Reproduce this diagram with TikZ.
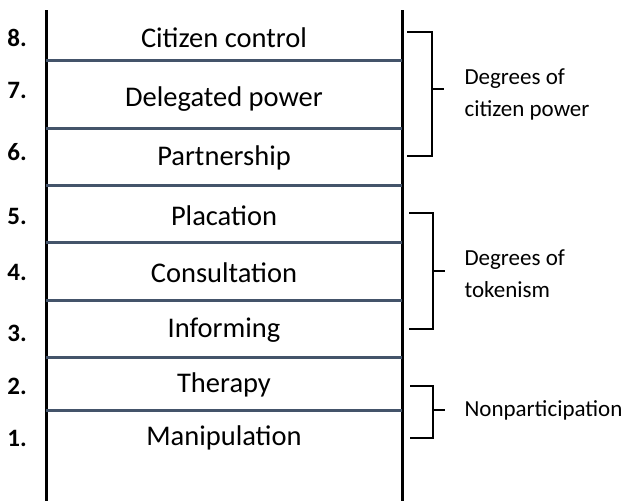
\documentclass[tikz,border=0pt]{standalone}
\usepackage{fontspec}
\setmainfont{Carlito}
\usetikzlibrary{positioning}
\definecolor{rungblue}{HTML}{44546A}

\tikzset{
  rail/.style={line width=3pt,black},
  rung/.style={line width=3pt,rungblue},
  bracket/.style={line width=2.4pt,black},
  steptext/.style={font=\fontsize{28.5}{30}\selectfont},
  stepnum/.style={font=\fontsize{25}{27}\selectfont\bfseries},
  grouptext/.style={font=\fontsize{23}{32}\selectfont,align=left,anchor=west}
}

\begin{document}
\begin{tikzpicture}[x=1pt,y=-1pt]
\useasboundingbox (0,0) rectangle (623,501);
\coordinate (lt) at (46,10);
\coordinate (lb) at (46,501);
\coordinate (rt) at (402,10);
\coordinate (rb) at (402,501);
\draw [rail] (lt) -- (lb);
\draw [rail] (rt) -- (rb);
\draw [rung] (46,60) -- (402,60);
\draw [rung] (46,128) -- (402,128);
\draw [rung] (46,185) -- (402,185);
\draw [rung] (46,242) -- (402,242);
\draw [rung] (46,300) -- (402,300);
\draw [rung] (46,357) -- (402,357);
\draw [rung] (46,410) -- (402,410);
\draw
    (224,38) node [steptext] (s8) {Citizen control}
    +(0,61) node [steptext] (s7) {Delegated power}
    +(0,120) node [steptext] (s6) {Partnership}
    +(0,178) node [steptext] (s5) {Placation}
    +(0,235) node [steptext] (s4) {Consultation}
    +(0,292) node [steptext] (s3) {Informing}
    +(0,347) node [steptext] (s2) {Therapy}
    +(0,400) node [steptext] (s1) {Manipulation};
\draw
    (17,38) node [stepnum] (n8) {8.}
    +(0,52) node [stepnum] (n7) {7.}
    +(0,114) node [stepnum] (n6) {6.}
    +(0,178) node [stepnum] (n5) {5.}
    +(0,234) node [stepnum] (n4) {4.}
    +(0,295) node [stepnum] (n3) {3.}
    +(0,348) node [stepnum] (n2) {2.}
    +(0,400) node [stepnum] (n1) {1.};
\draw [bracket] (407,32) -- (432,32) -- (432,156) -- (407,156);
\draw [bracket] (432,89) -- (444,89) coordinate (g3);
\draw [bracket] (409,213) -- (433,213) -- (433,329) -- (409,329);
\draw [bracket] (433,271) -- (445,271) coordinate (g2);
\draw [bracket] (410,386) -- (433,386) -- (433,438) -- (410,438);
\draw [bracket] (433,410) -- (445,410) coordinate (g1);
\node [grouptext,right=17pt of g3,yshift=-5pt] (power) {Degrees of\\citizen power};
\node [grouptext,right=16pt of g2,yshift=-3pt] (token) {Degrees of\\tokenism};
\node [grouptext,right=16pt of g1] (nonpart) {Nonparticipation};
\end{tikzpicture}
\end{document}
